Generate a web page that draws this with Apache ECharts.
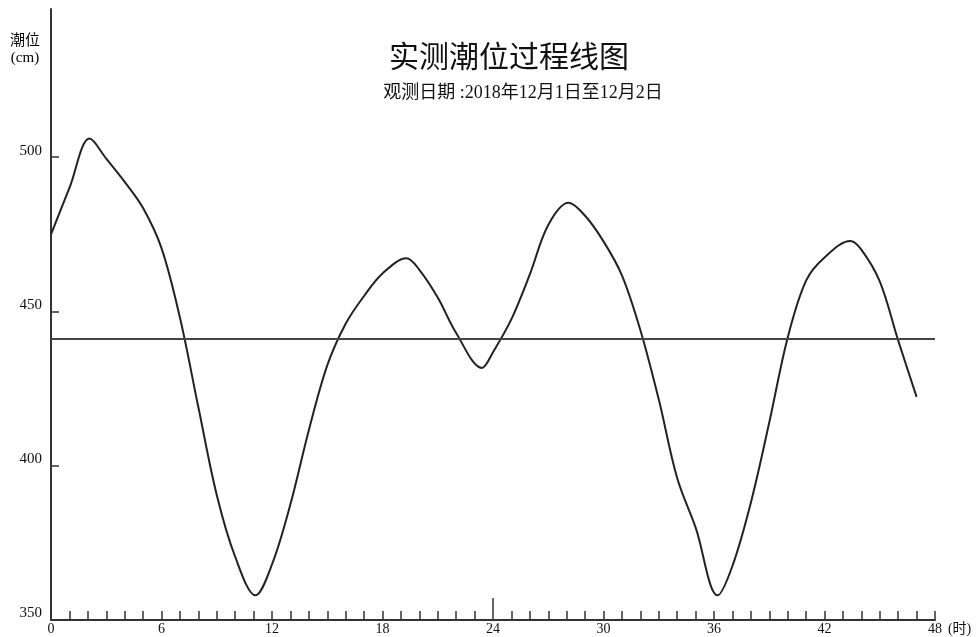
<!DOCTYPE html>
<html>
<head>
<meta charset="utf-8">
<title>实测潮位过程线图</title>
<script src="https://cdn.jsdelivr.net/npm/echarts@6/dist/echarts.min.js"></script>
<style>
  html, body { margin: 0; padding: 0; background: #fff; }
  #chart { width: 977px; height: 637px; }
</style>
</head>
<body>
<div id="chart"></div>
<script>
// Observation times (hours from 00:00 on 1 Dec) and tide level (cm)
var hours = [0, 1, 2.1, 3, 4, 5, 6, 7, 8, 9, 10, 11.1, 12, 13, 14, 15, 16, 17, 18, 19.3,
             20, 21, 22, 23.4, 24, 25, 26, 27, 28.1, 29, 30, 31, 32, 33, 34, 35, 36.2,
             37, 38, 39, 40, 41, 42, 43.4, 44, 45, 46, 47];
var levels = [475, 490, 506, 499.5, 492, 483.5, 470.5, 448, 419, 390.5, 370.5, 358, 368, 387.5, 411.5, 432.5, 446, 455, 462.3, 467.2,
              463.5, 454.5, 443, 431.7, 436.8, 447.5, 462, 478, 485.2, 481, 472.7, 461.7, 444, 421.5, 396, 380, 358,
              367.5, 388, 414, 441.5, 460, 467.5, 472.8, 470, 459.7, 440.6, 422.3];
var meanLevel = 441;

// Axis labels and tick positions
var xLabelValues = [0, 6, 12, 18, 24, 30, 36, 42, 48];
var xTickValues = [];
for (var h = 0; h <= 48; h++) xTickValues.push(h);
var yLabelValues = [350, 400, 450, 500];

var titleText = '实测潮位过程线图';
var subText = '观测日期 :2018年12月1日至12月2日';

var serif = '"Liberation Serif", "Times New Roman", "Noto Sans CJK SC", serif';
var sans = '"Noto Sans CJK SC", "Noto Sans", sans-serif';

var seriesData = hours.map(function (t, i) { return [t, levels[i]]; });

var chart = echarts.init(document.getElementById('chart'), null, { renderer: 'canvas' });
chart.setOption({
  backgroundColor: '#fff',
  animation: false,
  title: [
    {
      text: titleText,
      left: 504, top: 36, textAlign: 'center',
      textStyle: { fontFamily: sans, fontSize: 30, fontWeight: 'normal', color: '#111' }
    },
    {
      text: subText,
      left: 518, top: 79, textAlign: 'center',
      textStyle: { fontFamily: serif, fontSize: 18, fontWeight: 'normal', color: '#111' }
    }
  ],
  graphic: [
    {
      type: 'text', left: 10, top: 32,
      style: {
        text: '{a|潮位}\n{b|(cm)}',
        rich: {
          a: { fontFamily: sans, fontSize: 15, lineHeight: 19, color: '#111', align: 'center' },
          b: { fontFamily: serif, fontSize: 15, lineHeight: 19, color: '#111', align: 'center' }
        }
      }
    }
  ],
  grid: { left: 51, right: 42, top: 9, bottom: 17, containLabel: false },
  xAxis: [
    {
      type: 'value', min: 0, max: 48, interval: 1,
      name: '(时)', nameLocation: 'end', nameGap: 12,
      nameTextStyle: { fontFamily: serif, fontSize: 14, color: '#111', align: 'left', verticalAlign: 'top', padding: [2, 0, 0, 0] },
      axisLine: { show: true, onZero: false, lineStyle: { color: '#333', width: 2 } },
      axisTick: { show: true, inside: true, length: 9, customValues: xTickValues, lineStyle: { color: '#333', width: 1.5 } },
      axisLabel: { show: true, customValues: xLabelValues, margin: 2, fontFamily: serif, fontSize: 14, color: '#111' },
      splitLine: { show: false }
    },
    {
      // long mark at the midnight boundary between the two days
      type: 'value', min: 0, max: 48, interval: 24, position: 'bottom',
      axisLine: { show: false },
      axisTick: { show: true, inside: true, length: 22, customValues: [24], lineStyle: { color: '#333', width: 1.5 } },
      axisLabel: { show: false },
      splitLine: { show: false }
    }
  ],
  yAxis: {
    type: 'value', min: 350, max: 548, interval: 50,
    axisLine: { show: true, onZero: false, lineStyle: { color: '#333', width: 2 } },
    axisTick: { show: true, inside: true, length: 8, customValues: yLabelValues, lineStyle: { color: '#333', width: 1.5 } },
    axisLabel: { show: true, customValues: yLabelValues, margin: 9, fontFamily: serif, fontSize: 15, color: '#111', verticalAlign: 'bottom', lineHeight: 13 },
    splitLine: { show: false }
  },
  series: [
    {
      type: 'line',
      xAxisIndex: 0,
      data: seriesData,
      smooth: 0.35,
      showSymbol: false,
      lineStyle: { color: '#222', width: 2 },
      markLine: {
        silent: true,
        symbol: ['none', 'none'],
        label: { show: false },
        lineStyle: { color: '#444', width: 2, type: 'solid' },
        data: [{ yAxis: meanLevel }]
      }
    }
  ]
});
</script>
</body>
</html>
